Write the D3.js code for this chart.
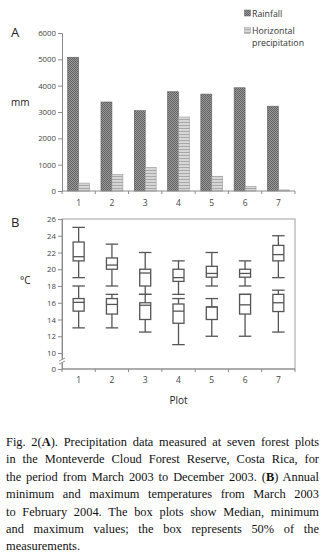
<!DOCTYPE html>
<html>
<head>
<meta charset="utf-8">
<script src="https://cdn.jsdelivr.net/npm/d3@7"></script>
<style>
  body { margin: 0; background: #fff; }
  #wrap { position: relative; width: 326px; height: 555px; overflow: hidden; }
  #caption {
    position: absolute; left: 6px; top: 434px; width: 313px;
    font-family: "Liberation Serif", "Times New Roman", serif;
    font-size: 12.4px; line-height: 17.4px; color: #111;
  }
  #caption div { text-align: justify; text-align-last: justify; white-space: nowrap; }
  #caption div.last { text-align-last: left; }
</style>
</head>
<body>
<div id="wrap">
  <div id="chart"></div>
  <div id="caption">
    <div>Fig. 2(<b>A</b>). Precipitation data measured at seven forest plots</div>
    <div>in the Monteverde Cloud Forest Reserve, Costa Rica, for</div>
    <div>the period from March 2003 to December 2003. (<b>B</b>) Annual</div>
    <div>minimum and maximum temperatures from March 2003</div>
    <div>to February 2004. The box plots show Median, minimum</div>
    <div>and maximum values; the box represents 50% of the</div>
    <div class="last">measurements.</div>
  </div>
</div>
<script>
// data
const plots = ["1", "2", "3", "4", "5", "6", "7"];
const rainfall = [5080, 3380, 3050, 3770, 3680, 3920, 3220];
const horizontal = [300, 630, 890, 2810, 560, 180, 40];
const seriesNames = ["Rainfall", "Horizontal precipitation"];
const mmTicks = [0, 1000, 2000, 3000, 4000, 5000, 6000];
const tempTicks = [0, 10, 12, 14, 16, 18, 20, 22, 24, 26];
// [whisker low, q1, median, q3, whisker high]
const maxTemp = [
  [19.0, 21.0, 21.5, 23.25, 25.0],
  [18.0, 20.0, 20.5, 21.35, 23.0],
  [17.0, 18.0, 19.55, 20.0, 22.0],
  [17.0, 18.55, 19.0, 20.0, 21.0],
  [18.0, 19.05, 19.5, 20.35, 22.0],
  [18.0, 19.05, 19.5, 20.0, 21.0],
  [19.0, 21.0, 21.75, 22.85, 24.0]
];
const minTemp = [
  [13.0, 15.0, 16.05, 16.5, 18.0],
  [13.0, 14.65, 15.8, 16.5, 17.0],
  [12.5, 14.0, 15.7, 16.0, 17.0],
  [11.0, 13.55, 15.0, 15.85, 16.5],
  [12.0, 14.0, 15.5, 15.5, 16.5],
  [12.0, 14.65, 15.75, 17.0, 17.0],
  [12.5, 14.95, 16.0, 17.0, 17.5]
];

const W = 326, H = 420;
const sans = "'Open Sans', 'Noto Sans', sans-serif";
const axisCol = "#8a8a8a", textCol = "#444", boxCol = "#555";

const svg = d3.select("#chart").append("svg")
  .attr("width", W).attr("height", H)
  .style("position", "absolute").style("left", 0).style("top", 0);

// patterns
const defs = svg.append("defs");
const pRain = defs.append("pattern").attr("id", "rainPat")
  .attr("patternUnits", "userSpaceOnUse").attr("width", 2).attr("height", 2);
pRain.append("rect").attr("width", 2).attr("height", 2).attr("fill", "#9a9a9a");
pRain.append("rect").attr("width", 1).attr("height", 1).attr("fill", "#626262");
pRain.append("rect").attr("x", 1).attr("y", 1).attr("width", 1).attr("height", 1).attr("fill", "#626262");
const pHor = defs.append("pattern").attr("id", "horPat")
  .attr("patternUnits", "userSpaceOnUse").attr("width", 3).attr("height", 3);
pHor.append("rect").attr("width", 3).attr("height", 3).attr("fill", "#d6d6d6");
pHor.append("rect").attr("y", 2).attr("width", 3).attr("height", 1).attr("fill", "#a8a8a8");

const left = 62, right = 295;
const x = d3.scaleBand().domain(plots).range([left, right]).padding(0);

// ---------- Panel A ----------
const yA = d3.scaleLinear().domain([0, 6000]).range([191, 33]);
const xSub = d3.scaleBand().domain(seriesNames).range([0, x.bandwidth()])
  .paddingInner(0).paddingOuter(0.52);

const gA = svg.append("g");
const axA = gA.append("g").attr("transform", `translate(${left},0)`)
  .call(d3.axisLeft(yA).tickValues(mmTicks).tickSize(4).tickPadding(2).tickFormat(d3.format("d")));
axA.select(".domain").attr("stroke", axisCol);
axA.selectAll(".tick line").attr("stroke", axisCol);
axA.selectAll("text").attr("fill", textCol).style("font-family", sans).style("font-size", "7.8px");

const bars = [
  {name: seriesNames[0], values: rainfall, fill: "url(#rainPat)", stroke: "#5e5e5e"},
  {name: seriesNames[1], values: horizontal, fill: "url(#horPat)", stroke: "#9a9a9a"}
];
bars.forEach(s => {
  gA.selectAll(null).data(plots).join("rect")
    .attr("x", (d) => x(d) + xSub(s.name))
    .attr("width", xSub.bandwidth())
    .attr("y", (d, i) => yA(s.values[i]))
    .attr("height", (d, i) => yA(0) - yA(s.values[i]))
    .attr("fill", s.fill).attr("stroke", s.stroke).attr("stroke-width", 0.6);
});

// bottom axis: ticks at band boundaries, labels at band centres
function bottomAxis(g, y0, labelY) {
  g.append("line").attr("x1", left).attr("x2", right).attr("y1", y0).attr("y2", y0)
    .attr("stroke", axisCol);
  g.selectAll(null).data(plots.map(d => x(d)).concat([right])).join("line")
    .attr("x1", (d) => d).attr("x2", (d) => d).attr("y1", y0).attr("y2", y0 + 3)
    .attr("stroke", axisCol);
  g.selectAll(null).data(plots).join("text")
    .attr("x", (d) => x(d) + x.bandwidth() / 2).attr("y", labelY)
    .attr("text-anchor", "middle").attr("dominant-baseline", "central")
    .attr("fill", textCol).style("font-family", sans).style("font-size", "8.5px")
    .text((d) => d);
}
bottomAxis(gA, 191, 202);

gA.append("text").attr("x", 11).attr("y", 37).text("A")
  .attr("fill", "#222").style("font-family", sans).style("font-size", "13px");
gA.append("text").attr("x", 11).attr("y", 106).text("mm")
  .attr("fill", "#222").style("font-family", sans).style("font-size", "10px");

// legend
const leg = gA.append("g").style("font-family", sans).style("font-size", "8.8px").attr("fill", "#333");
leg.append("rect").attr("x", 244.5).attr("y", 10).attr("width", 6).attr("height", 6)
  .attr("fill", "url(#rainPat)").attr("stroke", "#5e5e5e").attr("stroke-width", 0.5);
leg.append("text").attr("x", 252).attr("y", 16.5).text(seriesNames[0]);
leg.append("rect").attr("x", 244.5).attr("y", 27.5).attr("width", 6).attr("height", 6)
  .attr("fill", "url(#horPat)").attr("stroke", "#9a9a9a").attr("stroke-width", 0.5);
const leg2 = leg.append("text").attr("x", 252).attr("y", 33.5);
seriesNames[1].split(" ").forEach((w, i) => {
  leg2.append("tspan").attr("x", 252).attr("dy", i ? 12 : 0).text(w);
});

// ---------- Panel B ----------
const yB = d3.scaleLinear().domain([0, 10, 26]).range([369, 353, 219]);
const gB = svg.append("g");

gB.append("rect").attr("x", left).attr("y", yB(26)).attr("width", right - left)
  .attr("height", yB(0) - yB(26)).attr("fill", "none").attr("stroke", "#a0a0a0");

const axB = gB.append("g").attr("transform", `translate(${left},0)`)
  .call(d3.axisLeft(yB).tickValues(tempTicks).tickSize(4).tickPadding(2));
axB.select(".domain").attr("stroke", axisCol);
axB.selectAll(".tick line").attr("stroke", axisCol);
axB.selectAll("text").attr("fill", textCol).style("font-family", sans).style("font-size", "7.8px");

// axis break
const yBreak = (yB(0) + yB(10)) / 2;
gB.append("rect").attr("x", left - 2).attr("y", yBreak - 1.5).attr("width", 4).attr("height", 3).attr("fill", "#fff");
[-1.5, 1.5].forEach(o => {
  gB.append("line").attr("x1", left - 3).attr("x2", left + 3)
    .attr("y1", yBreak + o + 1.5).attr("y2", yBreak + o - 1.5)
    .attr("stroke", axisCol).attr("stroke-width", 0.9);
});

bottomAxis(gB, 369, 379);

const boxW = 11, capW = 12.5;
function drawBoxes(stats) {
  const g = gB.append("g").attr("stroke", boxCol).attr("stroke-width", 1.3).attr("fill", "none");
  const items = g.selectAll(null).data(plots).join("g")
    .attr("transform", (d) => `translate(${x(d) + x.bandwidth() / 2},0)`);
  items.append("line").attr("x1", 0).attr("x2", 0)
    .attr("y1", (d, i) => yB(stats[i][0])).attr("y2", (d, i) => yB(stats[i][1]));
  items.append("line").attr("x1", 0).attr("x2", 0)
    .attr("y1", (d, i) => yB(stats[i][3])).attr("y2", (d, i) => yB(stats[i][4]));
  items.append("line").attr("x1", -capW / 2).attr("x2", capW / 2)
    .attr("y1", (d, i) => yB(stats[i][0])).attr("y2", (d, i) => yB(stats[i][0]));
  items.append("line").attr("x1", -capW / 2).attr("x2", capW / 2)
    .attr("y1", (d, i) => yB(stats[i][4])).attr("y2", (d, i) => yB(stats[i][4]));
  items.append("rect").attr("x", -boxW / 2).attr("width", boxW)
    .attr("y", (d, i) => yB(stats[i][3]))
    .attr("height", (d, i) => yB(stats[i][1]) - yB(stats[i][3]))
    .attr("fill", "#fff");
  items.append("line").attr("x1", -boxW / 2).attr("x2", boxW / 2)
    .attr("y1", (d, i) => yB(stats[i][2])).attr("y2", (d, i) => yB(stats[i][2]));
}
drawBoxes(maxTemp);
drawBoxes(minTemp);

gB.append("text").attr("x", 11).attr("y", 227).text("B")
  .attr("fill", "#222").style("font-family", sans).style("font-size", "13px");
gB.append("text").attr("x", 20).attr("y", 284).text("°C")
  .attr("fill", "#222").style("font-family", sans).style("font-size", "10px");
gB.append("text").attr("x", (left + right) / 2).attr("y", 400).text("Plot")
  .attr("text-anchor", "middle").attr("dominant-baseline", "central")
  .attr("fill", "#222").style("font-family", sans).style("font-size", "10px");
</script>
</body>
</html>
